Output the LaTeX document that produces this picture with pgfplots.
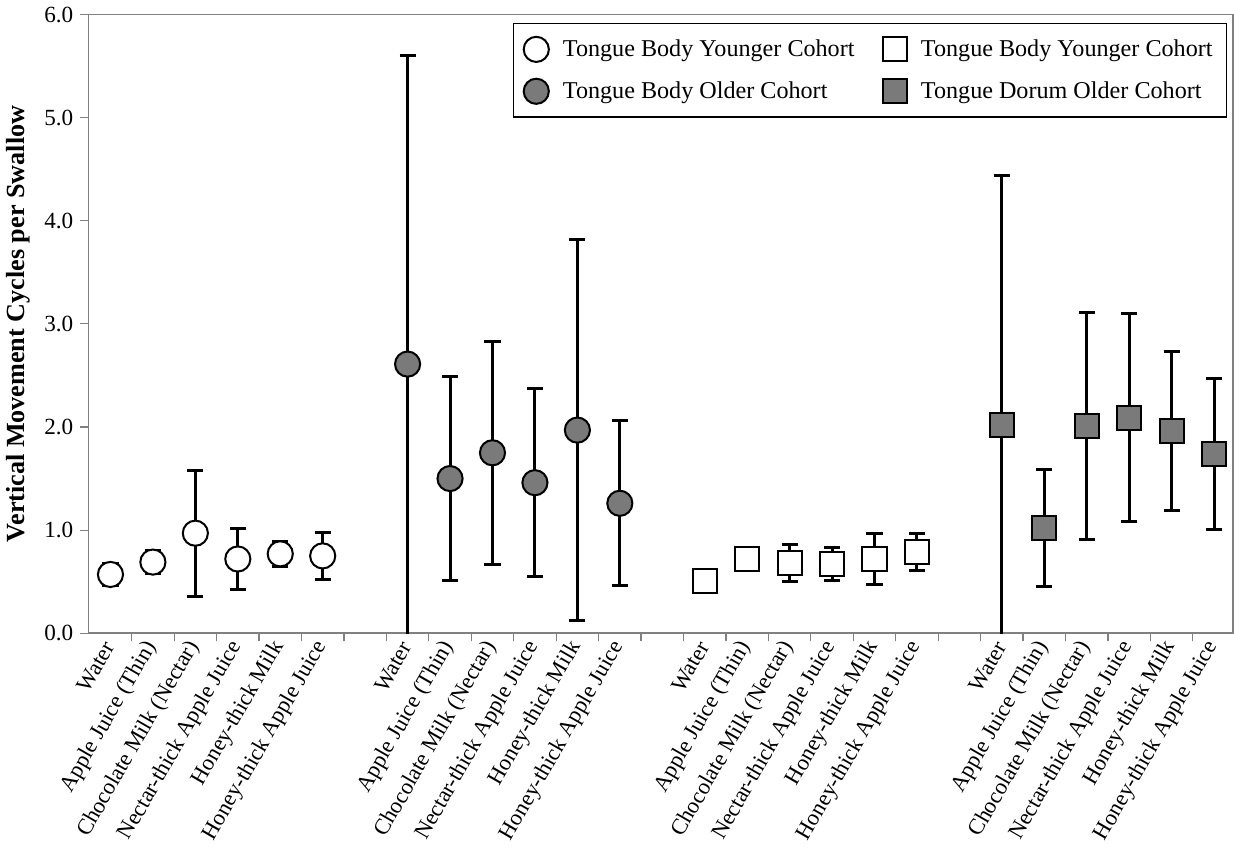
\documentclass[border=0pt]{standalone}
\usepackage{pgfplots}
\pgfplotsset{compat=1.18}
\usepackage{fontspec}
\setmainfont{Liberation Serif}
\definecolor{axgray}{RGB}{128,128,128}
\definecolor{mkgray}{RGB}{122,122,122}
\begin{document}
\begin{tikzpicture}
\begin{axis}[
  scale only axis,
  width=569pt, height=307.5pt,
  xmin=-0.52, xmax=26.45, ymin=0, ymax=6,
  axis line style={axgray, line width=0.8pt},
  every tick/.style={axgray, line width=0.6pt},
  tick align=outside,
  xtick pos=bottom, ytick pos=left,
  major tick length=4pt, minor tick length=4pt,
  ytick={0,1,...,6},
  y tick label style={font=\fontsize{11.5}{13}\selectfont, /pgf/number format/.cd, fixed, fixed zerofill, precision=1, assume math mode=true},
  xtick={0,1,2,3,4,5,7,8,9,10,11,12,14,15,16,17,18,19,21,22,23,24,25,26},
  major x tick style={draw=none},
  minor xtick={0.5,1.5,...,25.5},
  xticklabels={Water,Apple Juice (Thin),Chocolate Milk (Nectar),Nectar-thick Apple Juice,Honey-thick Milk,Honey-thick Apple Juice,
               Water,Apple Juice (Thin),Chocolate Milk (Nectar),Nectar-thick Apple Juice,Honey-thick Milk,Honey-thick Apple Juice,
               Water,Apple Juice (Thin),Chocolate Milk (Nectar),Nectar-thick Apple Juice,Honey-thick Milk,Honey-thick Apple Juice,
               Water,Apple Juice (Thin),Chocolate Milk (Nectar),Nectar-thick Apple Juice,Honey-thick Milk,Honey-thick Apple Juice},
  x tick label style={rotate=60, anchor=east, font=\fontsize{11.2}{13}\selectfont, inner sep=1pt},
  ylabel={\textbf{Vertical Movement Cycles per Swallow}},
  ylabel style={font=\fontsize{13}{15}\selectfont},
  legend columns=2,
  legend style={at={(rel axis cs:0.995,0.987)}, anchor=north east, draw=black, line width=0.8pt,
    font=\fontsize{12}{14}\selectfont, row sep=7pt, inner xsep=5pt, inner ysep=6pt,
    /tikz/every odd column/.append style={column sep=5pt},
    /tikz/every even column/.append style={column sep=12pt}},
  legend cell align=left,
]
% Tongue Body Younger (white circles)
\addplot[only marks, mark=*, mark size=6.25pt, mark options={fill=white, draw=black, line width=1pt},
  error bars/.cd, y dir=both, y explicit,
  error bar style={line width=1.5pt, black},
  error mark options={line width=1.5pt, mark size=4pt, rotate=90, black}]
  coordinates {
  (0,0.57) +- (0,0.11)
  (1,0.69) +- (0,0.11)
  (2,0.97) +- (0,0.61)
  (3,0.72) +- (0,0.30)
  (4,0.77) +- (0,0.12)
  (5,0.75) +- (0,0.23)
  };
\addlegendentry{Tongue Body Younger Cohort}
% Tongue Dorsum Younger (white squares)
\addplot[only marks, mark=square*, mark size=6pt, mark options={fill=white, draw=black, line width=1pt},
  error bars/.cd, y dir=both, y explicit,
  error bar style={line width=1.5pt, black},
  error mark options={line width=1.5pt, mark size=4pt, rotate=90, black}]
  coordinates {
  (14,0.51) +- (0,0.04)
  (15,0.72) +- (0,0.08)
  (16,0.68) +- (0,0.18)
  (17,0.67) +- (0,0.16)
  (18,0.72) +- (0,0.25)
  (19,0.79) +- (0,0.18)
  };
\addlegendentry{Tongue Body Younger Cohort}
% Tongue Body Older (gray circles)
\addplot[only marks, mark=*, mark size=6.25pt, mark options={fill=mkgray, draw=black, line width=1pt},
  error bars/.cd, y dir=both, y explicit,
  error bar style={line width=1.5pt, black},
  error mark options={line width=1.5pt, mark size=4pt, rotate=90, black}]
  coordinates {
  (7,2.61) +- (0,2.99)
  (8,1.50) +- (0,0.99)
  (9,1.75) +- (0,1.08)
  (10,1.46) +- (0,0.91)
  (11,1.97) +- (0,1.85)
  (12,1.26) +- (0,0.80)
  };
\addlegendentry{Tongue Body Older Cohort}
% Tongue Dorsum Older (gray squares)
\addplot[only marks, mark=square*, mark size=6pt, mark options={fill=mkgray, draw=black, line width=1pt},
  error bars/.cd, y dir=both, y explicit,
  error bar style={line width=1.5pt, black},
  error mark options={line width=1.5pt, mark size=4pt, rotate=90, black}]
  coordinates {
  (21,2.02) +- (0,2.42)
  (22,1.02) +- (0,0.57)
  (23,2.01) +- (0,1.10)
  (24,2.09) +- (0,1.01)
  (25,1.96) +- (0,0.77)
  (26,1.74) +- (0,0.73)
  };
\addlegendentry{Tongue Dorum Older Cohort}
\end{axis}
\end{tikzpicture}
\end{document}
